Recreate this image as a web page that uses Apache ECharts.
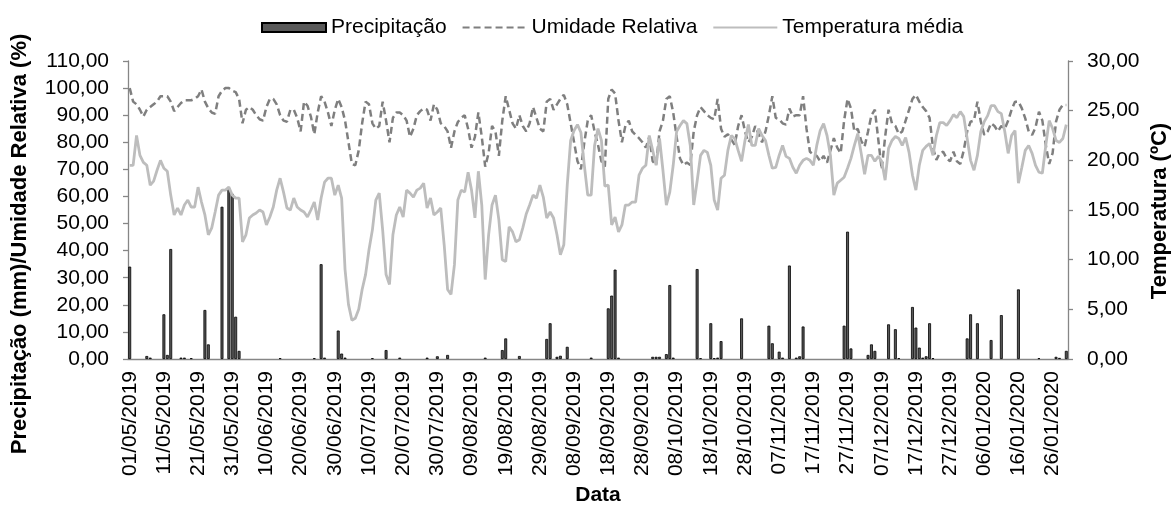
<!DOCTYPE html>
<html>
<head>
<meta charset="utf-8">
<script src="https://cdn.jsdelivr.net/npm/echarts@6/dist/echarts.min.js"></script>
<style>
  html, body { margin: 0; padding: 0; background: #fff; }
  #chart { width: 1171px; height: 508px; }
</style>
</head>
<body>
<div id="chart"></div>
<script>
// daily series, 01/05/2019 .. 30/01/2020 (275 days), one row = 10 days
const precipitacao = [
  34.1, 0, 0, 0, 0, 1.1, 0.5, 0, 0, 0,
  16.5, 1.5, 40.6, 0, 0, 0.5, 0.5, 0, 0.3, 0,
  0, 0, 18.1, 5.4, 0, 0, 0, 56.2, 0, 63,
  61, 15.6, 3, 0, 0, 0, 0, 0, 0, 0,
  0, 0, 0, 0, 0.3, 0, 0, 0, 0, 0,
  0, 0, 0, 0, 0.3, 0, 35, 0.5, 0, 0,
  0, 10.5, 2, 0.5, 0, 0, 0, 0, 0, 0,
  0, 0.3, 0, 0, 0, 3.3, 0, 0, 0, 0.5,
  0, 0, 0, 0, 0, 0, 0, 0.5, 0, 0,
  1, 0, 0, 1.5, 0, 0, 0, 0, 0, 0,
  0, 0, 0, 0, 0.5, 0, 0, 0, 0, 3.3,
  7.6, 0, 0, 0, 1.1, 0, 0, 0, 0, 0,
  0, 0, 7.4, 13.2, 0, 0.8, 1.2, 0, 4.5, 0,
  0, 0, 0, 0, 0, 0.5, 0, 0, 0, 0,
  18.7, 23.4, 33, 0.5, 0, 0, 0, 0, 0, 0,
  0, 0, 0, 0.8, 0.8, 0.8, 0, 1.8, 27.3, 0.5,
  0, 0, 0, 0, 0, 0, 33.2, 0.3, 0, 0,
  13.2, 0.3, 0.5, 6.6, 0, 0, 0, 0, 0, 15,
  0, 0, 0, 0, 0, 0, 0, 12.3, 5.8, 0,
  2.7, 0.5, 0, 34.5, 0, 0.5, 1, 12, 0, 0,
  0, 0, 0, 0, 0, 0, 0, 0, 0, 12.3,
  47, 3.9, 0, 0, 0, 0, 1.5, 5.4, 3, 0,
  0, 0, 12.8, 0, 11, 0.3, 0, 0, 0, 19.2,
  11.6, 4.2, 0.5, 1, 13.2, 0.3, 0, 0, 0, 0,
  0, 0, 0, 0, 0, 7.6, 16.5, 0, 13.2, 0,
  0, 0, 7, 0, 0, 16.2, 0, 0, 0, 0,
  25.7, 0, 0, 0, 0, 0, 0.3, 0, 0, 0,
  0, 0.8, 0.4, 0, 3
];

const umidade = [
  100, 95, 94, 92, 89.5, 92, 93, 94, 95, 97,
  97, 97, 95, 91.5, 93, 94.5, 95.5, 95.5, 95.5, 96,
  97, 99.5, 95, 92.5, 91, 90.5, 97, 99, 100, 100,
  99, 98.5, 96, 87, 92, 93, 92, 90, 88.5, 88,
  93, 96, 96, 94, 90, 88, 87.6, 92, 92, 89,
  84, 95, 93.5, 89.5, 83, 91, 97, 95, 91, 86,
  92, 96, 93, 88, 80, 72, 71.5, 77, 87, 95,
  94, 87, 85, 86, 95, 88, 80, 89, 91, 91,
  90, 88, 82, 85, 90, 91.5, 92.5, 92, 88, 94,
  92, 87, 86, 84, 78, 84, 87.5, 89, 90, 85,
  78, 82, 91, 82, 71, 76, 86, 84, 75, 88,
  97, 92, 87, 85, 90, 86, 84, 87, 93, 89,
  85, 84, 95, 96, 92, 94, 96, 97.5, 94, 87,
  80, 73, 70, 80, 88, 90, 84, 79, 73, 71,
  96, 99.5, 98, 88, 80, 86, 88, 84, 82.7, 81.5,
  80, 78, 82, 73, 71.6, 84, 88, 96, 97, 91,
  82, 74, 71.6, 72.5, 71.6, 84, 90, 93, 91.5, 90,
  89, 88.5, 96, 85, 82, 83, 81, 79, 86, 90,
  84, 80, 82, 86, 83, 80, 84, 90, 97, 89,
  88.5, 87, 86.5, 92.5, 89.5, 90, 90, 97, 85, 76.5,
  75.5, 75, 73, 75, 72.5, 77, 81.5, 78, 76, 88,
  96, 92.5, 84, 85, 80.5, 78.4, 84, 90, 92, 81,
  70, 82, 92, 87, 86, 83, 84, 88, 92, 96,
  97.5, 95, 93, 91.5, 89, 78, 73.5, 76, 76.5, 74,
  73, 76.5, 73, 72, 77, 84, 87.6, 88, 95, 87.6,
  82.7, 84, 87, 86, 84, 86, 85, 88, 92, 95,
  95, 92.5, 88.8, 84, 82.7, 85.5, 91.3, 88, 79, 72,
  76, 87.6, 92, 93.8, 93.8
];

const temperatura = [
  19.5, 19.5, 22.5, 20.5, 19.8, 19.5, 17.5, 17.9, 19, 20,
  19.2, 18.9, 16.5, 14.5, 15.2, 14.5, 15.5, 16, 15.3, 15.3,
  17.3, 15.8, 14.5, 12.5, 13.2, 14.8, 16.5, 17, 17, 17.3,
  16.5, 16.2, 16.2, 11.8, 12.5, 14.2, 14.5, 14.7, 15, 14.8,
  13.5, 14.3, 15.3, 17, 18.2, 16.8, 15.2, 15, 16.2, 15.3,
  15, 14.8, 14.3, 15, 15.8, 14, 16.2, 17.8, 18.2, 18.2,
  16.5, 17.5, 16.2, 9, 5.5, 3.9, 4.1, 5, 7, 8.5,
  11, 13, 16, 16.7, 13, 8.5, 7.5, 12.5, 14.5, 15.3,
  14.3, 17, 16.7, 16.3, 17, 17.2, 17.7, 15.2, 16.2, 14.5,
  14.8, 15.2, 11.5, 7, 6.5, 9.5, 16, 17, 16.8, 18.8,
  17, 14.2, 18.9, 15.5, 8, 12.5, 15.5, 16.5, 14, 10,
  9.8, 13.3, 12.8, 11.8, 12, 13.2, 14.6, 15.5, 16.5, 16.2,
  17.5, 16.3, 14.2, 14.8, 14.2, 12.5, 10.5, 11.5, 17.5, 22,
  23, 23.6, 22.8, 19.5, 16.5, 16.5, 21.5, 23.2, 22, 17.4,
  17.5, 13.5, 14.3, 12.8, 13.5, 15.5, 15.5, 15.8, 15.8, 18.5,
  19.2, 19.5, 22.5, 21, 19.5, 22.2, 19, 15.5, 16.8, 19.5,
  22.9, 23.5, 24, 23.7, 21.5, 15.5, 17.9, 20.5, 21, 20.8,
  19.5, 16, 15, 18.2, 18.5, 21, 22.5, 22.2, 21, 19.9,
  22, 23.6, 21.5, 21.5, 23.2, 22.5, 22, 20.5, 19.2, 19.3,
  20.5, 21.5, 20.4, 20.2, 19.3, 18.7, 19.5, 20, 20.2, 20,
  19.5, 21.5, 23, 23.7, 22.5, 20.5, 16.5, 17.7, 18, 18.3,
  19.2, 20.2, 21.5, 22.7, 20.7, 18.6, 20.5, 20.5, 19.9, 20.4,
  19.9, 18, 21.2, 22, 22.4, 22.2, 21.5, 22.3, 20.8, 18.5,
  17, 19.5, 21, 21.4, 21.7, 20.5, 22.5, 23.8, 23.8, 23.5,
  24, 24.6, 24.3, 24.9, 24.4, 22.2, 20, 19, 20.5, 22.9,
  23.9, 24.5, 25.5, 25.5, 24.9, 24.7, 22.9, 20.7, 22.5, 23,
  17.7, 19.3, 21, 21.5, 20.7, 19.5, 18.8, 18.7, 21.5, 24,
  23.2, 22, 21.8, 22.2, 23.6
];

// one category per day starting at 01/05/2019
const datas = [];
for (let i = 0; i < precipitacao.length; i++) {
  const d = new Date(Date.UTC(2019, 4, 1 + i));
  const dd = String(d.getUTCDate()).padStart(2, "0");
  const mm = String(d.getUTCMonth() + 1).padStart(2, "0");
  datas.push(dd + "/" + mm + "/" + d.getUTCFullYear());
}

const fonte = "'Liberation Sans', Arial, sans-serif";
const corEixo = "#868686";
const virgula = v => v.toFixed(2).replace(".", ",");

const chart = echarts.init(document.getElementById("chart"));
chart.setOption({
  animation: false,
  backgroundColor: "#fff",
  textStyle: { fontFamily: fonte },
  legend: {
    left: 256,
    top: 12,
    itemWidth: 64,
    itemHeight: 9,
    itemGap: 15,
    textStyle: { fontSize: 21, color: "#000", fontFamily: fonte },
    data: [
      { name: "Precipitação", icon: "rect" },
      // hide the marker dot, keep only the line
      { name: "Umidade Relativa", itemStyle: { opacity: 0 } },
      { name: "Temperatura média", itemStyle: { opacity: 0 } }
    ]
  },
  grid: { left: 128, right: 103, top: 61, bottom: 149, outerBoundsMode: "none" },
  xAxis: {
    type: "category",
    data: datas,
    boundaryGap: true,
    axisLine: { lineStyle: { color: corEixo, width: 1.3 } },
    axisTick: { interval: 9, length: 5, lineStyle: { color: corEixo, width: 1.3 } },
    axisLabel: {
      interval: 9,
      rotate: 90,
      margin: 12,
      fontSize: 21,
      color: "#000",
      fontFamily: fonte
    },
    splitLine: { show: false }
  },
  yAxis: [
    {
      type: "value",
      min: 0,
      max: 110,
      interval: 10,
      axisLine: { show: true, lineStyle: { color: corEixo, width: 1.3 } },
      axisTick: { show: true, length: 5, lineStyle: { color: corEixo, width: 1.3 } },
      axisLabel: { formatter: virgula, margin: 19, fontSize: 21, color: "#000", fontFamily: fonte },
      splitLine: { show: false }
    },
    {
      type: "value",
      position: "right",
      min: 0,
      max: 30,
      interval: 5,
      axisLine: { show: true, lineStyle: { color: corEixo, width: 1.3 } },
      axisTick: { show: true, length: 5, lineStyle: { color: corEixo, width: 1.3 } },
      axisLabel: { formatter: virgula, margin: 19, fontSize: 21, color: "#000", fontFamily: fonte },
      splitLine: { show: false }
    }
  ],
  graphic: [
    {
      type: "text",
      x: 20, y: 244,
      rotation: Math.PI / 2,
      style: {
        text: "Precipitação (mm)/Umidade Relativa (%)",
        font: "bold 22px " + fonte,
        fill: "#000",
        align: "center",
        verticalAlign: "middle"
      }
    },
    {
      type: "text",
      x: 1160, y: 211,
      rotation: Math.PI / 2,
      style: {
        text: "Temperatura (ºC)",
        font: "bold 22px " + fonte,
        fill: "#000",
        align: "center",
        verticalAlign: "middle"
      }
    },
    {
      type: "text",
      x: 598, y: 495,
      style: {
        text: "Data",
        font: "bold 21px " + fonte,
        fill: "#000",
        align: "center",
        verticalAlign: "middle"
      }
    }
  ],
  series: [
    {
      name: "Precipitação",
      type: "bar",
      yAxisIndex: 0,
      barCategoryGap: "15%",
      itemStyle: { color: "#595959", borderColor: "#000", borderWidth: 0.8 },
      // dry days: no bar at all (avoids a dark outline along the axis)
      data: precipitacao.map(v => (v === 0 ? "-" : v))
    },
    {
      name: "Umidade Relativa",
      type: "line",
      yAxisIndex: 0,
      symbol: "none",
      lineStyle: { color: "#7f7f7f", width: 2.5, type: [7, 4] },
      itemStyle: { color: "#7f7f7f" },
      data: umidade
    },
    {
      name: "Temperatura média",
      type: "line",
      yAxisIndex: 1,
      symbol: "none",
      lineStyle: { color: "#bdbdbd", width: 2.8 },
      itemStyle: { color: "#bdbdbd" },
      data: temperatura
    }
  ]
});
</script>
</body>
</html>
